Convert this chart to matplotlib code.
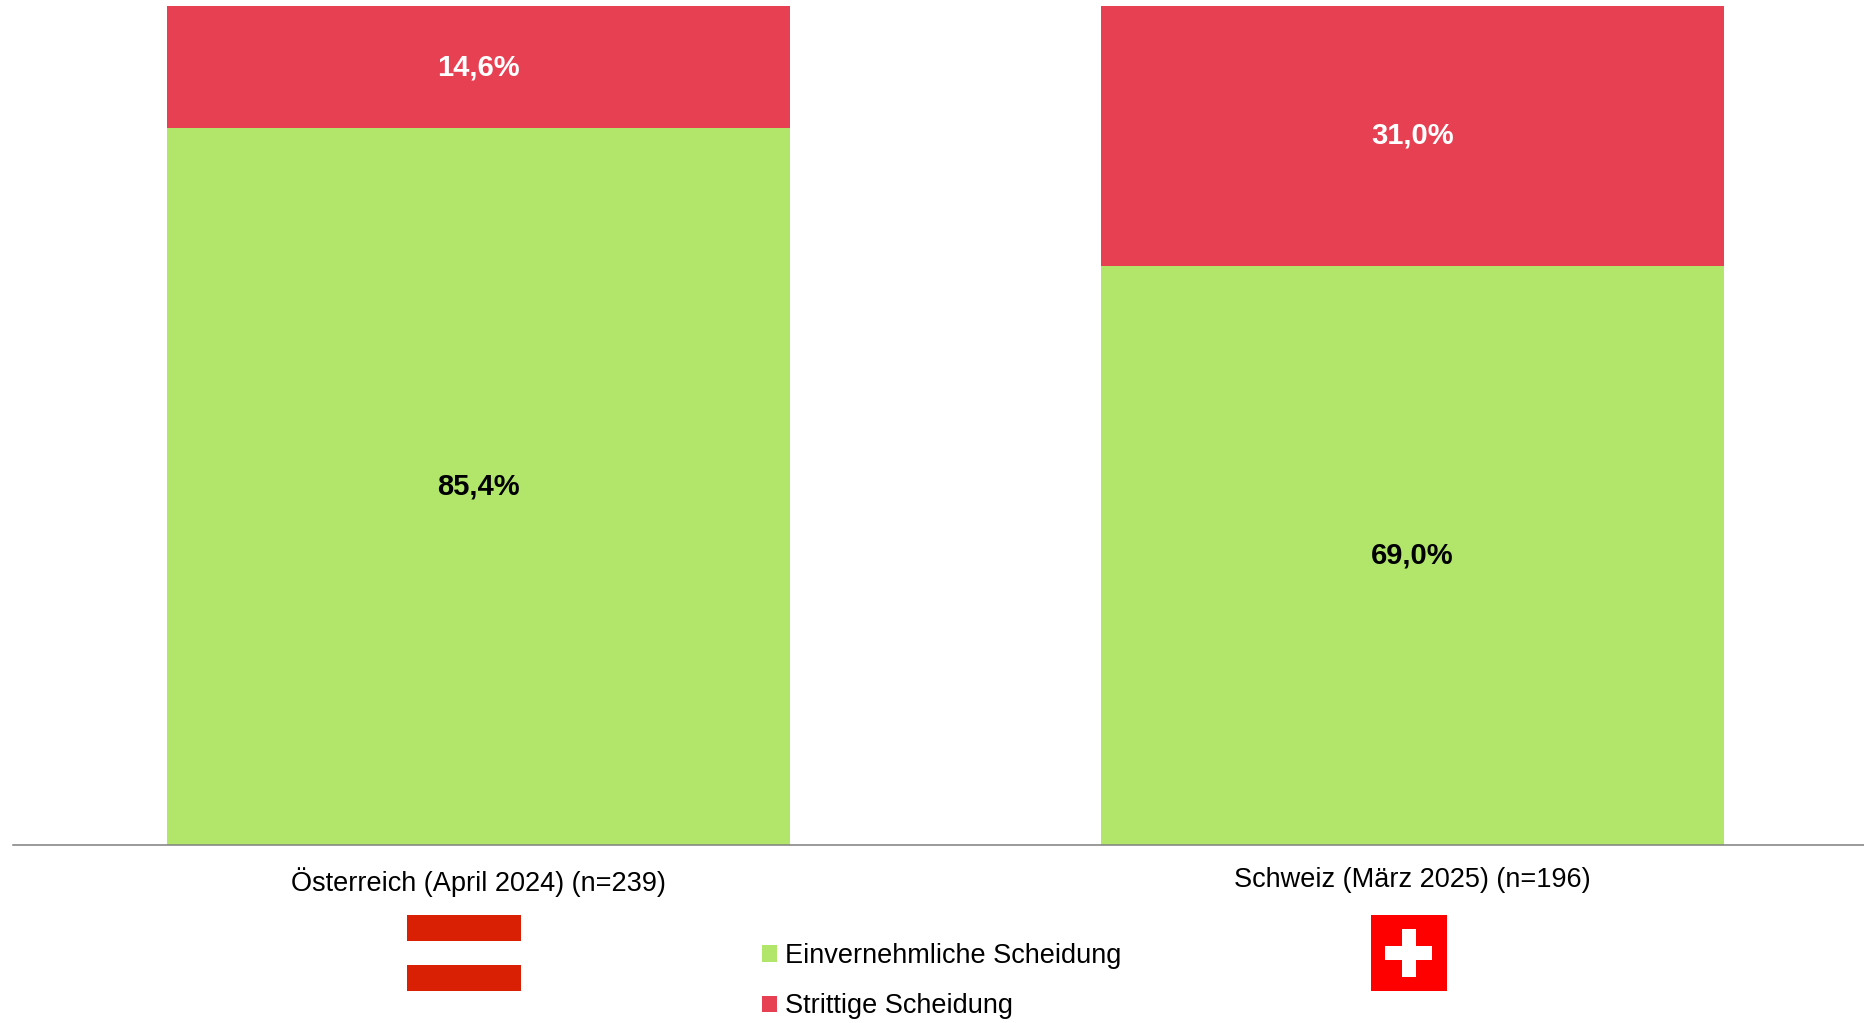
from matplotlib import pyplot as plt
from matplotlib.patches import Rectangle

plt.rcParams['font.family'] = ['Liberation Sans', 'DejaVu Sans']

labels = ['Österreich (April 2024) (n=239)', 'Schweiz (März 2025) (n=196)']
einvernehmlich = [85.4, 69.0]
strittig = [14.6, 31.0]
series_names = ['Einvernehmliche Scheidung', 'Strittige Scheidung']

GREEN = '#B1E66A'
RED = '#E84053'
W, H = 1865, 1023


def fmt(v):
    return f'{v:.1f}%'.replace('.', ',')


def px_rect(fig, x0, y0, x1, y1, color):
    # pixel coords from the top left corner
    fig.add_artist(Rectangle((x0 / W, 1 - y1 / H), (x1 - x0) / W, (y1 - y0) / H,
                             transform=fig.transFigure, facecolor=color, edgecolor='none'))


fig = plt.figure(figsize=(W / 100, H / 100), dpi=100, facecolor='white')
ax = fig.add_axes([13 / W, 1 - 844.5 / H, (W - 13) / W, 838.5 / H])

x = range(len(labels))
width = 0.667
bars1 = ax.bar(x, einvernehmlich, width, color=GREEN, label=series_names[0])
bars2 = ax.bar(x, strittig, width, bottom=einvernehmlich, color=RED, label=series_names[1])

ax.bar_label(bars1, labels=[fmt(v) for v in einvernehmlich], label_type='center',
             fontsize=21, fontweight='bold', color='black')
ax.bar_label(bars2, labels=[fmt(v) for v in strittig], label_type='center',
             fontsize=21, fontweight='bold', color='white')

ax.set_xlim(-0.499, 1.485)
ax.set_ylim(0, 100)
ax.set_yticks([])
ax.set_xticks(list(x), labels)
ax.tick_params(axis='x', length=0, pad=16, labelsize=19.5)
for side in ['top', 'left', 'right']:
    ax.spines[side].set_visible(False)
ax.spines['bottom'].set_color('#7f7f7f')
ax.spines['bottom'].set_linewidth(1.1)

# flags
px_rect(fig, 407, 915, 521, 940.5, '#D92005')
px_rect(fig, 407, 965, 521, 991, '#D92005')
px_rect(fig, 1371, 915, 1447, 991, '#FF0000')
px_rect(fig, 1385, 946, 1432, 960, 'white')
px_rect(fig, 1402, 929, 1416, 977, 'white')

fig.legend(handles=[bars1, bars2], loc='upper left', bbox_to_anchor=(762 / W, 1 - 943 / H),
           bbox_transform=fig.transFigure, frameon=False, fontsize=19.5,
           handlelength=0.55, handleheight=0.55, handletextpad=0.3, labelspacing=0.9,
           borderpad=0, borderaxespad=0)

fig.savefig('out.png', dpi=100)
